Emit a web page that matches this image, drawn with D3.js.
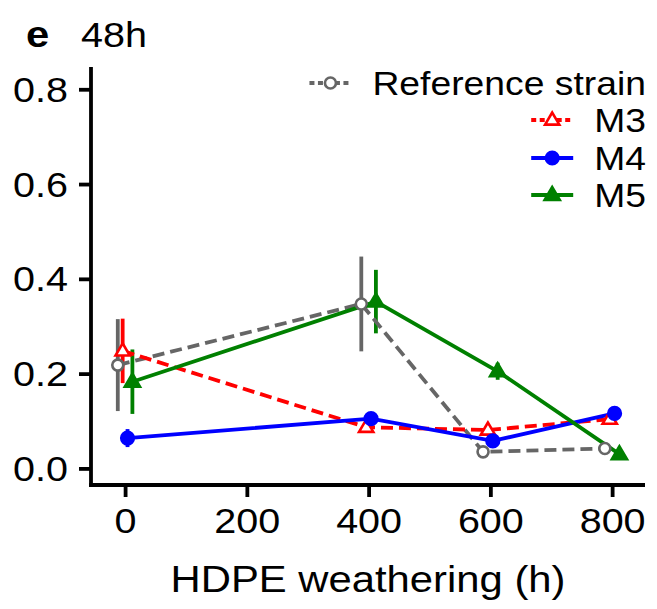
<!DOCTYPE html>
<html>
<head>
<meta charset="utf-8">
<script src="https://cdn.jsdelivr.net/npm/d3@7/dist/d3.min.js"></script>
<style>
  html, body { margin: 0; padding: 0; background: #fff; }
  svg { display: block; }
  text { font-family: "Liberation Sans", Arial, Helvetica, sans-serif; fill: #000; }
</style>
</head>
<body>
<svg id="chart" width="657" height="609"></svg>
<script>
// ---- data ----
const weatheringHours = [0, 400, 600, 800];
const seriesNames = ["Reference strain", "M3", "M4", "M5"];
const refMean = [0.218, 0.347, 0.035, 0.042];
const refErr  = [0.097, 0.100, 0.004, 0.004];
const m3Mean  = [0.248, 0.087, 0.081, 0.104];
const m3Err   = [0.068, 0.006, 0.006, 0.008];
const m4Mean  = [0.064, 0.105, 0.058, 0.116];
const m4Err   = [0.019, 0.008, 0.008, 0.006];
const m5Mean  = [0.183, 0.352, 0.205, 0.030];
const m5Err   = [0.068, 0.067, 0.018, 0.004];
const xTicks = [0, 200, 400, 600, 800];
const yTicks = [0.0, 0.2, 0.4, 0.6, 0.8];
const panelLetter = "e";
const panelTitle = "48h";
const xTitle = "HDPE weathering (h)";

// ---- styles ----
const SX = 1.13;
const LW = 3.8;
const styles = {
  "Reference strain": {color: "#666666", dash: "12,6", shape: "circle", fill: "#fff", r: 5.5, off: -12},
  "M3": {color: "#FF0000", dash: "12,6", shape: "triangle", fill: "#fff", r: 7.5, off: -4},
  "M4": {color: "#0000FF", dash: null, shape: "circle", fill: "#0000FF", r: 6.3, off: 4},
  "M5": {color: "#008000", dash: null, shape: "triangle", fill: "#008000", r: 8, off: 12}
};
const means = {"Reference strain": refMean, "M3": m3Mean, "M4": m4Mean, "M5": m5Mean};
const errs = {"Reference strain": refErr, "M3": m3Err, "M4": m4Err, "M5": m5Err};

const svg = d3.select("#chart");
const x = d3.scaleLinear().domain([-56, 854]).range([91, 645]);
const y = d3.scaleLinear().domain([-0.035, 0.847]).range([485, 67]);

function sText(parent, tx, ty, str, size, anchor, weight) {
  return parent.append("text")
    .attr("transform", `translate(${tx},${ty}) scale(${SX},1)`)
    .attr("text-anchor", anchor || "start")
    .attr("font-size", size)
    .attr("font-weight", weight || "normal")
    .text(str);
}

// axes
const yAxis = svg.append("g").attr("transform", "translate(91,0)")
  .call(d3.axisLeft(y).tickValues(yTicks).tickFormat(d3.format(".1f")).tickSizeOuter(0).tickSizeInner(12));
const xAxis = svg.append("g").attr("transform", "translate(0,485)")
  .call(d3.axisBottom(x).tickValues(xTicks).tickFormat(d3.format("d")).tickSizeOuter(0).tickSizeInner(12));
[yAxis, xAxis].forEach(a => {
  a.select(".domain").attr("stroke", "#000").attr("stroke-width", LW);
  a.selectAll(".tick line").attr("stroke", "#000").attr("stroke-width", LW);
  a.selectAll(".tick text").attr("font-family", "Liberation Sans, Arial, sans-serif").attr("font-size", 35).attr("fill", "#000");
});
// extend domain lines to meet at corner
yAxis.select(".domain").attr("d", `M0,${y.range()[1]}V${485 + LW / 2}`);
xAxis.select(".domain").attr("d", `M${91 - LW / 2},0H645`);
yAxis.selectAll(".tick text").attr("x", null).attr("dy", null)
  .attr("transform", `translate(-23,12) scale(${SX},1)`).attr("text-anchor", "end");
xAxis.selectAll(".tick text").attr("y", null).attr("dy", null)
  .attr("transform", `translate(0,48) scale(${SX},1)`).attr("text-anchor", "middle");

// titles
sText(svg, 26, 47, panelLetter, 37, "start", "bold");
sText(svg, 81, 47, panelTitle, 35, "start");
sText(svg, 368, 592, xTitle, 37, "middle");

// marker drawing
function marker(g, st, cx, cy) {
  if (st.shape === "circle") {
    g.append("circle").attr("cx", cx).attr("cy", cy).attr("r", st.r)
      .attr("fill", st.fill).attr("stroke", st.color).attr("stroke-width", 2.6);
  } else {
    const s = st.r;
    const pts = [[cx, cy - s], [cx - s * 0.95, cy + s * 0.62], [cx + s * 0.95, cy + s * 0.62]];
    g.append("path").attr("d", "M" + pts.map(p => p.join(",")).join("L") + "Z")
      .attr("fill", st.fill).attr("stroke", st.color).attr("stroke-width", 2.6)
      .attr("stroke-linejoin", "miter");
  }
}

const plot = svg.append("g");
const line = d3.line().x(d => d[0]).y(d => d[1]);

// error bars
seriesNames.forEach(name => {
  const st = styles[name];
  weatheringHours.forEach((h, i) => {
    const cx = x(h + st.off);
    plot.append("line").attr("x1", cx).attr("x2", cx)
      .attr("y1", y(means[name][i] - errs[name][i])).attr("y2", y(means[name][i] + errs[name][i]))
      .attr("stroke", st.color).attr("stroke-width", LW);
  });
});
// lines
seriesNames.forEach(name => {
  const st = styles[name];
  const pts = weatheringHours.map((h, i) => [x(h + st.off), y(means[name][i])]);
  plot.append("path").attr("d", line(pts)).attr("fill", "none")
    .attr("stroke", st.color).attr("stroke-width", LW)
    .attr("stroke-dasharray", st.dash);
});
// points
seriesNames.forEach(name => {
  const st = styles[name];
  weatheringHours.forEach((h, i) => marker(plot, st, x(h + st.off), y(means[name][i])));
});

// legend
const legRowY = [83, 120, 158, 195];
const legRight = 646;
const leg = svg.append("g");
seriesNames.forEach((name, i) => {
  const st = styles[name];
  const t = sText(leg, legRight, legRowY[i] + 12, name, 33, "end");
  const w = t.node().getComputedTextLength() * SX;
  const textStart = legRight - w;
  const kc = textStart - 42;
  leg.append("line").attr("x1", kc - 21).attr("x2", kc + 21)
    .attr("y1", legRowY[i]).attr("y2", legRowY[i])
    .attr("stroke", st.color).attr("stroke-width", LW)
    .attr("stroke-dasharray", st.dash ? "5,3.5" : null);
  marker(leg, st, kc, legRowY[i]);
});
</script>
</body>
</html>
